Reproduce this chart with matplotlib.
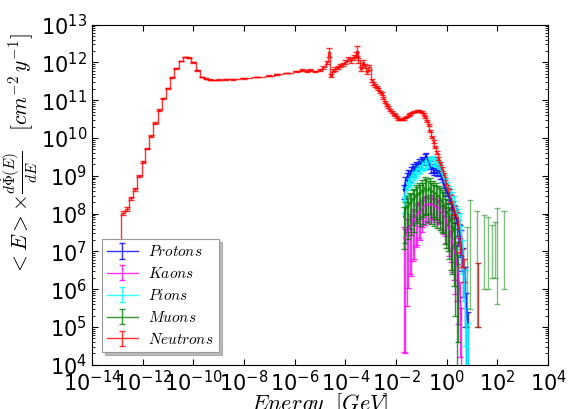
import numpy as np
import matplotlib
matplotlib.use("Agg")
import matplotlib.pyplot as plt
from matplotlib.ticker import LogLocator, NullLocator

plt.rcParams["font.family"] = "DejaVu Sans"
plt.rcParams["mathtext.fontset"] = "cm"

# ---- neutrons: log10(E/GeV), log10(flux), relative error ----
neutron_logE = [-12.96, -12.79, -12.63, -12.46, -12.30, -12.13, -11.97, -11.82, -11.67, -11.50,
                -11.34, -11.18, -11.01, -10.84, -10.68, -10.50, -10.33, -10.17, -10.00, -9.84,
                -9.67, -9.50, -9.34, -9.17, -9.00, -8.70, -8.42, -8.00, -7.50, -7.00,
                -6.71, -6.30, -5.92, -5.70, -5.50, -5.39, -5.20, -5.00, -4.87, -4.71,
                -4.63, -4.58, -4.50, -4.41, -4.30, -4.21, -4.10, -4.01, -3.88, -3.78,
                -3.68, -3.60, -3.55, -3.49, -3.39, -3.29, -3.22, -3.15, -3.05, -2.96,
                -2.90, -2.83, -2.76, -2.70, -2.63, -2.56, -2.50, -2.43, -2.36, -2.30,
                -2.23, -2.17, -2.10, -2.04, -1.97, -1.91, -1.84, -1.77, -1.70, -1.64,
                -1.57, -1.51, -1.44, -1.38, -1.28, -1.18, -1.08, -0.98, -0.91, -0.85,
                -0.78, -0.72, -0.65, -0.59, -0.52, -0.46, -0.39, -0.33, -0.26, -0.19,
                -0.12, -0.06, 0.00, 0.07, 0.13, 0.20, 0.27, 0.33, 0.40, 0.47,
                0.53, 0.60, 0.66]
neutron_logflux = [7.22, 8.02, 8.12, 8.40, 8.64, 9.00, 9.36, 9.72, 10.06, 10.40,
                   10.74, 11.05, 11.32, 11.60, 11.85, 12.04, 12.14, 12.12, 12.00, 11.79,
                   11.61, 11.57, 11.54, 11.53, 11.54, 11.55, 11.55, 11.58, 11.61, 11.65,
                   11.68, 11.72, 11.76, 11.79, 11.77, 11.79, 11.76, 11.80, 11.87, 12.00,
                   12.27, 11.65, 11.78, 11.83, 11.86, 11.92, 11.95, 12.00, 12.09, 12.05,
                   12.14, 12.20, 12.31, 12.05, 11.83, 12.00, 11.90, 11.74, 11.87, 11.52,
                   11.45, 11.39, 11.35, 11.30, 11.22, 11.17, 11.05, 10.95, 10.88, 10.82,
                   10.75, 10.69, 10.64, 10.60, 10.55, 10.51, 10.49, 10.49, 10.51, 10.54,
                   10.57, 10.60, 10.64, 10.67, 10.70, 10.71, 10.71, 10.69, 10.63, 10.55,
                   10.45, 10.34, 10.19, 10.03, 9.90, 9.76, 9.61, 9.46, 9.33, 9.19,
                   9.02, 8.84, 8.70, 8.58, 8.40, 8.25, 8.10, 8.00, 7.92, 7.60,
                   7.20, 6.90, 6.60]
neutron_relerr = [0.20, 0.10, 0.10, 0.08, 0.08, 0.06, 0.06, 0.05, 0.05, 0.04,
                  0.04, 0.03, 0.03, 0.03, 0.03, 0.02, 0.02, 0.02, 0.02, 0.02,
                  0.02, 0.02, 0.02, 0.02, 0.02, 0.02, 0.02, 0.02, 0.02, 0.02,
                  0.02, 0.02, 0.04, 0.05, 0.04, 0.05, 0.05, 0.06, 0.08, 0.10,
                  0.25, 0.10, 0.08, 0.10, 0.10, 0.12, 0.10, 0.12, 0.12, 0.15,
                  0.15, 0.15, 0.30, 0.15, 0.12, 0.15, 0.12, 0.10, 0.15, 0.10,
                  0.10, 0.10, 0.08, 0.08, 0.08, 0.08, 0.06, 0.06, 0.06, 0.06,
                  0.06, 0.06, 0.05, 0.05, 0.05, 0.05, 0.05, 0.05, 0.05, 0.05,
                  0.05, 0.05, 0.05, 0.05, 0.05, 0.05, 0.05, 0.05, 0.05, 0.05,
                  0.06, 0.06, 0.06, 0.08, 0.08, 0.08, 0.10, 0.10, 0.10, 0.12,
                  0.12, 0.15, 0.15, 0.15, 0.20, 0.20, 0.25, 0.25, 0.30, 0.35,
                  0.40, 0.50, 0.60]
# isolated high-energy neutron bin
neutron_tail_logE = [1.25]
neutron_tail_flux = [2.5e6]
neutron_tail_err = [2.4e6]

# ---- hadrons / muons share one energy grid (log10 GeV) ----
hadron_logE = [-1.70, -1.64, -1.58, -1.52, -1.46, -1.40, -1.34, -1.28, -1.22, -1.16,
               -1.10, -1.04, -0.98, -0.92, -0.86, -0.80, -0.74, -0.68, -0.62, -0.56,
               -0.50, -0.44, -0.38, -0.32, -0.26, -0.20, -0.14, -0.08, -0.02, 0.04,
               0.10, 0.16, 0.22, 0.28, 0.34, 0.40, 0.46, 0.52, 0.58, 0.64,
               0.70, 0.76, 0.82]

proton_logflux = [8.60, 8.85, 8.95, 9.05, 9.00, 9.12, 9.20, 9.15, 9.28, 9.25,
                  9.35, 9.30, 9.42, 9.38, 9.48, 9.52, 9.40, 9.30, 9.18, 9.22,
                  9.12, 9.18, 9.10, 9.14, 9.05, 8.95, 8.82, 8.70, 8.62, 8.55,
                  8.45, 8.35, 8.15, 8.05, 7.95, 7.80, 7.60, 7.45, 7.30, 6.80,
                  6.30, 5.60, 5.10]
proton_relerr = [0.40, 0.35, 0.35, 0.30, 0.30, 0.30, 0.28, 0.28, 0.25, 0.25,
                 0.25, 0.25, 0.22, 0.22, 0.22, 0.22, 0.22, 0.22, 0.22, 0.22,
                 0.22, 0.22, 0.22, 0.22, 0.25, 0.25, 0.28, 0.30, 0.30, 0.35,
                 0.35, 0.40, 0.45, 0.50, 0.55, 0.60, 0.65, 0.75, 0.85, 0.90,
                 0.95, 0.98, 0.99]

kaon_logflux = [7.35, 7.30, 7.55, 7.55, 7.70, 7.65, 7.85, 7.80, 7.95, 8.00,
                8.05, 8.00, 8.12, 8.18, 8.22, 8.26, 8.20, 8.28, 8.22, 8.26,
                8.18, 8.22, 8.12, 8.15, 8.08, 8.02, 7.98, 7.92, 7.82, 7.68,
                7.58, 7.42, 7.28, 7.08, 6.88, 6.68, 6.38, 5.90, 5.20]
kaon_relerr = [0.999, 0.999, 0.99, 0.97, 0.95, 0.95, 0.92, 0.90, 0.85, 0.85,
               0.80, 0.80, 0.75, 0.70, 0.70, 0.65, 0.65, 0.60, 0.60, 0.60,
               0.60, 0.60, 0.60, 0.60, 0.65, 0.65, 0.70, 0.70, 0.75, 0.75,
               0.80, 0.80, 0.85, 0.85, 0.90, 0.90, 0.95, 0.98, 0.99]

pion_logflux = [8.27, 8.55, 8.70, 8.80, 8.88, 8.92, 8.97, 9.05, 9.10, 9.15,
                9.18, 9.22, 9.28, 9.32, 9.30, 9.36, 9.35, 9.38, 9.40, 9.42,
                9.40, 9.38, 9.33, 9.28, 9.20, 9.12, 9.00, 8.90, 8.80, 8.70,
                8.60, 8.50, 8.40, 8.30, 8.15, 8.00, 7.90, 7.75, 7.40, 7.00,
                6.20, 5.20, 4.80]
pion_relerr = [0.45, 0.40, 0.38, 0.35, 0.35, 0.32, 0.32, 0.30, 0.30, 0.30,
               0.28, 0.28, 0.28, 0.28, 0.28, 0.28, 0.28, 0.28, 0.28, 0.28,
               0.28, 0.28, 0.28, 0.28, 0.30, 0.30, 0.30, 0.32, 0.35, 0.35,
               0.38, 0.40, 0.45, 0.50, 0.55, 0.60, 0.70, 0.80, 0.90, 0.95,
               0.98, 0.99, 0.99]

muon_logflux = [7.90, 8.05, 8.20, 8.15, 8.30, 8.25, 8.40, 8.35, 8.50, 8.45,
                8.55, 8.50, 8.62, 8.55, 8.70, 8.65, 8.60, 8.68, 8.55, 8.60,
                8.50, 8.55, 8.45, 8.48, 8.40, 8.35, 8.30, 8.20, 8.10, 8.00,
                7.90, 7.80, 7.70, 7.60, 7.30, 6.95, 6.60]
muon_relerr = [0.85, 0.85, 0.80, 0.85, 0.80, 0.85, 0.80, 0.85, 0.80, 0.80,
               0.80, 0.85, 0.80, 0.85, 0.80, 0.80, 0.85, 0.80, 0.85, 0.80,
               0.85, 0.80, 0.85, 0.80, 0.85, 0.85, 0.85, 0.90, 0.90, 0.90,
               0.92, 0.95, 0.95, 0.97, 0.99, 0.999, 0.99]
# sparse high-energy muon bins
muon_tail_logE = [0.79, 0.92, 1.19, 1.48, 1.62, 1.78, 1.91, 1.98, 2.24]
muon_tail_flux = [2.25e7, 1.15e8, 6.0e7, 4.6e7, 4.2e7, 2.6e7, 3.1e7, 7.0e7, 6.0e7]
muon_tail_err = [2.24e7, 1.147e8, 5.99e7, 4.5e7, 4.1e7, 2.4e7, 2.9e7, 6.96e7, 5.9e7]

fig = plt.figure(figsize=(5.71, 4.09), dpi=100)
ax = fig.add_axes([0.161, 0.108, 0.799, 0.832])


def draw_series(logE, logflux, relerr, color, label, **kw):
    E = 10.0 ** np.array(logE)
    y = 10.0 ** np.array(logflux)
    yerr = y * np.array(relerr)
    return ax.errorbar(E, y, yerr=yerr, color=color, lw=1.0, elinewidth=1.0,
                       capsize=2, alpha=0.8, label=label, **kw)


n_k = len(kaon_logflux)
n_m = len(muon_logflux)
draw_series(hadron_logE, proton_logflux, proton_relerr, "blue", r"$Protons$")
draw_series(hadron_logE[:n_k], kaon_logflux, kaon_relerr, "magenta", r"$Kaons$")
draw_series(hadron_logE, pion_logflux, pion_relerr, "cyan", r"$Pions$")
draw_series(hadron_logE[:n_m], muon_logflux, muon_relerr, "green", r"$Muons$")
ax.errorbar(10.0 ** np.array(muon_tail_logE), muon_tail_flux, yerr=muon_tail_err,
            color="green", ls="none", elinewidth=1.0, capsize=2, alpha=0.5)
draw_series(neutron_logE, neutron_logflux, neutron_relerr, "red", r"$Neutrons$",
            drawstyle="steps-mid")
ax.errorbar(10.0 ** np.array(neutron_tail_logE), neutron_tail_flux, yerr=neutron_tail_err,
            color="#b01010", ls="none", elinewidth=1.0, capsize=2, alpha=0.8)

ax.set_xscale("log")
ax.set_yscale("log")
ax.set_xlim(1e-14, 1e4)
ax.set_ylim(1e4, 1e13)
ax.set_xticks([10.0 ** k for k in range(-14, 5, 2)])
ax.xaxis.set_minor_locator(NullLocator())
ax.yaxis.set_major_locator(LogLocator(base=10, numticks=30))
ax.yaxis.set_minor_locator(LogLocator(base=10, subs=np.arange(2, 10), numticks=30))
ax.tick_params(which="both", direction="in", top=True, right=True, labelsize=15)
ax.tick_params(which="major", length=4)
ax.tick_params(which="minor", length=2)
for s in ax.spines.values():
    s.set_linewidth(0.8)

ax.set_xlabel(r"$Energy\ \ [GeV]$", fontsize=16)
ax.xaxis.set_label_coords(0.5, -0.079)
ax.set_ylabel(r"$<E> \times \frac{d\dot{\Phi}(E)}{dE}\ \ \ [cm^{-2}\,y^{-1}]$",
              fontsize=15.5)
ax.yaxis.set_label_coords(-0.114, 0.62)

leg = ax.legend(loc="lower left", fontsize=11, shadow={"color": "0.55", "alpha": 0.6},
                fancybox=False, handlelength=2.0, handletextpad=0.7, borderpad=0.35,
                labelspacing=0.45, bbox_to_anchor=(0.005, 0.015))
leg.get_frame().set_edgecolor("#999999")
leg.get_frame().set_linewidth(0.8)

fig.savefig("out.png", dpi=100)
